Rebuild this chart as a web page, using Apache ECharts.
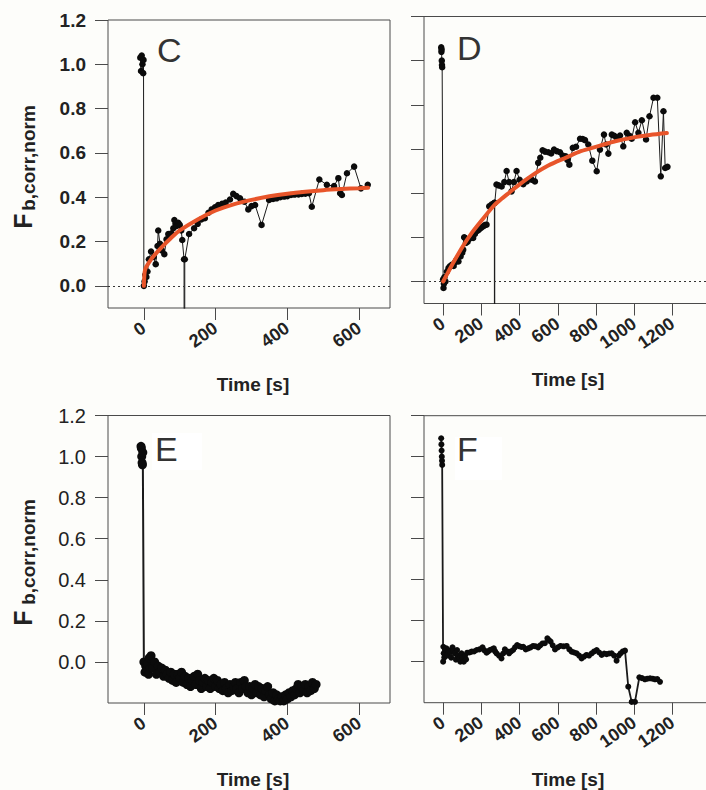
<!DOCTYPE html>
<html>
<head>
<meta charset="utf-8">
<script src="https://cdn.jsdelivr.net/npm/echarts@6/dist/echarts.min.js"></script>
<style>
html,body{margin:0;padding:0;background:#fdfdfa;}
#chart{width:706px;height:790px;}
</style>
</head>
<body>
<div id="chart"></div>
<script>
// ---------- tick labels ----------
const yTicks = [0, 0.2, 0.4, 0.6, 0.8, 1.0, 1.2];
const xTicksShort = [0, 200, 400, 600];
const xTicksLong = [0, 200, 400, 600, 800, 1000, 1200];
const panelLetters = ['C', 'D', 'E', 'F'];
const xTitle = 'Time [s]';
const yTitleMain = 'F';
const yTitleSub = 'b,corr,norm';

// ---------- panel C ----------
const cTime = [-10, -8, -6, -4, -2, -1, 0, 2, 4, 7, 10, 14, 20, 27, 33, 38, 40, 45, 50, 57, 63, 68, 73, 77, 82, 85, 88, 91, 96, 100, 104, 107, 112, 113, 114, 126, 140, 150, 160, 170, 180, 189, 198, 207, 218, 228, 240, 249, 258, 268, 280, 291, 300, 310, 328, 349, 360, 370, 380, 391, 400, 410, 420, 431, 440, 450, 460, 468, 489, 510, 530, 542, 547, 552, 566, 586, 605, 624];
const cValue = [1.03, 0.97, 1.04, 1.0, 0.96, 1.02, 0.0, 0.02, 0.05, 0.04, 0.065, 0.12, 0.155, 0.13, 0.098, 0.18, 0.25, 0.19, 0.16, 0.143, 0.21, 0.234, 0.225, 0.237, 0.26, 0.297, 0.28, 0.27, 0.285, 0.275, 0.25, 0.207, 0.12, -3, 0.12, 0.234, 0.26, 0.28, 0.3, 0.305, 0.33, 0.345, 0.355, 0.365, 0.37, 0.376, 0.39, 0.415, 0.405, 0.395, 0.38, 0.345, 0.36, 0.365, 0.275, 0.388, 0.392, 0.395, 0.4, 0.403, 0.405, 0.41, 0.412, 0.413, 0.415, 0.416, 0.418, 0.357, 0.48, 0.456, 0.45, 0.486, 0.418, 0.41, 0.508, 0.538, 0.44, 0.456];
const cFitTime = [0, 2, 5, 10, 25, 50, 75, 100, 150, 200, 250, 300, 350, 400, 450, 500, 550, 600, 625];
const cFitValue = [0, 0.06, 0.08, 0.095, 0.13, 0.175, 0.215, 0.25, 0.3, 0.34, 0.368, 0.388, 0.404, 0.416, 0.425, 0.432, 0.437, 0.441, 0.443];

// ---------- panel D ----------
const dTime = [-10, -9, -8, -7, -6, -5, 0, 2, 4, 7, 12, 20, 28, 35, 45, 55, 62, 70, 80, 91, 100, 105, 110, 114, 119, 128, 136, 146, 157, 166, 175, 184, 192, 201, 210, 218, 227, 241, 253, 262, 268, 269, 270, 279, 290, 306, 320, 332, 345, 358, 370, 384, 400, 419, 437, 454, 463, 480, 497, 508, 520, 533, 550, 565, 580, 594, 611, 625, 641, 650, 660, 678, 695, 716, 730, 742, 759, 780, 803, 820, 841, 852, 864, 882, 895, 908, 925, 942, 960, 975, 986, 1004, 1021, 1039, 1061, 1079, 1100, 1120, 1138, 1152, 1161, 1173];
const dValue = [1.06, 1.04, 1.05, 1.0, 0.98, 0.97, 0.01, -0.03, -0.01, 0.02, 0.0, 0.045, 0.06, 0.068, 0.075, 0.07, 0.086, 0.098, 0.09, 0.113, 0.13, 0.144, 0.2, 0.197, 0.174, 0.18, 0.192, 0.2, 0.197, 0.215, 0.227, 0.232, 0.239, 0.245, 0.25, 0.255, 0.257, 0.34, 0.348, 0.352, 0.356, -3, 0.356, 0.439, 0.435, 0.43, 0.45, 0.5, 0.45, 0.408, 0.45, 0.5, 0.46, 0.44, 0.453, 0.464, 0.461, 0.453, 0.537, 0.56, 0.594, 0.588, 0.585, 0.58, 0.597, 0.59, 0.585, 0.57, 0.567, 0.55, 0.529, 0.605, 0.61, 0.646, 0.645, 0.64, 0.62, 0.547, 0.499, 0.597, 0.665, 0.62, 0.579, 0.665, 0.66, 0.65, 0.661, 0.612, 0.673, 0.66, 0.646, 0.721, 0.673, 0.73, 0.643, 0.748, 0.832, 0.832, 0.476, 0.771, 0.514, 0.519];
const dFitTime = [0, 25, 50, 100, 150, 200, 267, 300, 350, 400, 471, 550, 646, 720, 820, 900, 995, 1080, 1170];
const dFitValue = [0, 0.04, 0.08, 0.155, 0.22, 0.275, 0.345, 0.37, 0.405, 0.44, 0.484, 0.525, 0.562, 0.59, 0.615, 0.635, 0.652, 0.663, 0.672];

// ---------- panel E ----------
const eTime = [-8, -7, -6, -5, -4, -3, 0, 3, 5, 8, 10, 13, 15, 18, 20, 25, 30, 35, 40, 45, 50, 55, 60, 65, 70, 75, 80, 85, 90, 95, 100, 105, 110, 115, 120, 125, 130, 135, 140, 145, 150, 155, 160, 165, 170, 175, 180, 185, 190, 195, 200, 205, 210, 215, 220, 225, 230, 235, 240, 245, 250, 255, 260, 265, 270, 275, 280, 285, 290, 295, 300, 305, 310, 315, 320, 325, 330, 335, 340, 345, 350, 355, 360, 365, 370, 375, 380, 385, 390, 395, 400, 405, 410, 415, 420, 425, 430, 435, 440, 445, 450, 455, 460, 465, 470, 475, 480];
const eValue = [1.05, 1.04, 1.0, 0.97, 0.96, 1.02, 0.0, -0.05, -0.02, -0.04, -0.01, -0.06, 0.02, -0.03, 0.03, -0.03, 0.0, -0.06, -0.02, -0.05, -0.03, -0.07, -0.04, -0.06, -0.08, -0.05, -0.09, -0.06, -0.1, -0.06, -0.08, -0.05, -0.1, -0.07, -0.11, -0.08, -0.12, -0.09, -0.07, -0.11, -0.06, -0.09, -0.13, -0.1, -0.08, -0.12, -0.09, -0.13, -0.1, -0.08, -0.12, -0.09, -0.13, -0.11, -0.14, -0.1, -0.13, -0.15, -0.11, -0.14, -0.12, -0.1, -0.13, -0.15, -0.1, -0.13, -0.09, -0.12, -0.15, -0.12, -0.16, -0.13, -0.11, -0.15, -0.12, -0.16, -0.13, -0.17, -0.14, -0.12, -0.16, -0.18, -0.15, -0.19, -0.16, -0.18, -0.19, -0.17, -0.19, -0.16, -0.18, -0.15, -0.17, -0.14, -0.16, -0.13, -0.11, -0.15, -0.12, -0.14, -0.11, -0.15, -0.12, -0.14, -0.1, -0.13, -0.11];

// ---------- panel F ----------
const fTime = [-10, -9, -8, -7, -6, -5, 0, 1, 3, 6, 10, 17, 22, 28, 35, 42, 49, 55, 61, 67, 73, 78, 84, 90, 96, 102, 108, 114, 120, 126, 138, 149, 162, 175, 190, 206, 216, 227, 236, 244, 255, 265, 272, 279, 292, 305, 314, 323, 335, 345, 355, 366, 376, 387, 400, 410, 419, 432, 445, 458, 471, 484, 497, 508, 520, 532, 545, 553, 562, 573, 585, 600, 614, 630, 646, 660, 672, 685, 698, 711, 724, 737, 750, 763, 777, 790, 803, 816, 829, 842, 855, 868, 881, 894, 907, 918, 928, 940, 951, 968, 986, 1003, 1026, 1040, 1055, 1068, 1082, 1095, 1108, 1120, 1134];
const fValue = [1.09, 1.06, 1.03, 1.0, 0.98, 0.96, 0.0, 0.073, 0.041, 0.02, 0.06, 0.065, 0.03, 0.055, 0.049, 0.02, 0.07, 0.05, 0.041, 0.01, 0.057, 0.03, 0.016, 0.0, 0.041, 0.02, 0.0, 0.03, 0.011, 0.044, 0.045, 0.049, 0.05, 0.057, 0.06, 0.07, 0.055, 0.044, 0.05, 0.057, 0.06, 0.065, 0.05, 0.041, 0.03, 0.016, 0.04, 0.06, 0.05, 0.041, 0.05, 0.057, 0.07, 0.081, 0.075, 0.072, 0.073, 0.06, 0.065, 0.07, 0.077, 0.075, 0.07, 0.08, 0.089, 0.09, 0.114, 0.105, 0.098, 0.08, 0.06, 0.07, 0.077, 0.075, 0.077, 0.06, 0.049, 0.045, 0.041, 0.03, 0.016, 0.025, 0.033, 0.03, 0.041, 0.05, 0.057, 0.045, 0.033, 0.04, 0.037, 0.04, 0.041, 0.03, 0.005, 0.03, 0.041, 0.05, 0.054, -0.122, -0.196, -0.196, -0.076, -0.08, -0.086, -0.083, -0.081, -0.083, -0.086, -0.085, -0.098];

// ---------- helpers ----------
const zip = (a, b) => a.map((v, i) => [v, b[i]]);
const BOX = '#4a4a4a';
const FONT = '"Liberation Sans", Arial, Helvetica, sans-serif';
const FIT = '#e8552a';

const grids = [
  {left: 108, top: 20, width: 282, height: 288},
  {left: 424, top: 16.5, width: 306, height: 287},
  {left: 108, top: 415.5, width: 282, height: 287.5},
  {left: 424, top: 415.7, width: 306, height: 287}
].map(g => Object.assign({show: true, borderColor: BOX, borderWidth: 1, backgroundColor: 'transparent',
  containLabel: false, outerBoundsMode: 'none'}, g));

function xAxis(idx, max, ticks) {
  return {
    type: 'value', gridIndex: idx, min: -100, max: max, position: 'bottom',
    axisLine: {show: false, onZero: false}, splitLine: {show: false},
    axisTick: {show: true, length: 12, customValues: ticks, lineStyle: {color: BOX, width: 1}},
    axisLabel: {show: true, customValues: ticks, rotate: 35, margin: 18, fontFamily: FONT,
      fontWeight: 'bold', fontSize: 18, color: '#222', formatter: v => String(v)}
  };
}
function yAxis(idx, min, labels, weight, size) {
  return {
    type: 'value', gridIndex: idx, min: min, max: 1.2, position: 'left',
    axisLine: {show: false, onZero: false}, splitLine: {show: false},
    axisTick: {show: true, length: 13, customValues: yTicks, lineStyle: {color: BOX, width: 1}},
    axisLabel: {show: labels, customValues: yTicks, margin: 22, fontFamily: FONT,
      fontWeight: weight, fontSize: size, color: '#222', formatter: v => v.toFixed(1)}
  };
}

const zeroLine = {
  silent: true, symbol: 'none', animation: false,
  label: {show: false},
  lineStyle: {type: [2, 3], color: '#333', width: 1},
  data: [{yAxis: 0}]
};

function dataSeries(idx, t, v, lw, size, withZero) {
  const s = {
    type: 'line', xAxisIndex: idx, yAxisIndex: idx, data: zip(t, v),
    symbol: 'circle', symbolSize: size, showSymbol: true, clip: true,
    itemStyle: {color: '#0b0b0b'}, lineStyle: {color: '#1a1a1a', width: lw},
    z: 2
  };
  if (withZero) s.markLine = zeroLine;
  return s;
}
function fitSeries(idx, t, v) {
  return {
    type: 'line', xAxisIndex: idx, yAxisIndex: idx, data: zip(t, v),
    showSymbol: false, symbol: 'none', smooth: 0.3, clip: true,
    lineStyle: {color: FIT, width: 4, cap: 'round'}, z: 5
  };
}

function letter(txt, x, y) {
  return {type: 'text', x: x, y: y, z: 50,
    style: {text: txt, font: '34px ' + FONT, fill: '#333', textVerticalAlign: 'middle', verticalAlign: 'middle'}};
}
function whiteBox(x, y, w, h) {
  return {type: 'rect', shape: {x: x, y: y, width: w, height: h}, z: 40, style: {fill: '#ffffff'}};
}
function xName(x, y) {
  return {type: 'text', x: x, y: y, z: 50,
    style: {text: xTitle, font: 'bold 19px ' + FONT, fill: '#222', textAlign: 'center', align: 'center',
      textVerticalAlign: 'middle', verticalAlign: 'middle'}};
}
function yName(xF, yF, xS, yS) {
  return [
    {type: 'text', x: xF, y: yF, rotation: Math.PI / 2, z: 50,
      style: {text: yTitleMain, font: 'bold 25px ' + FONT, fill: '#222', textAlign: 'center', align: 'center',
        textVerticalAlign: 'middle', verticalAlign: 'middle'}},
    {type: 'text', x: xS, y: yS, rotation: Math.PI / 2, z: 50,
      style: {text: yTitleSub, font: 'bold 19px ' + FONT, fill: '#222', textAlign: 'center', align: 'center',
        textVerticalAlign: 'middle', verticalAlign: 'middle'}}
  ];
}

const option = {
  backgroundColor: '#fdfdfa',
  animation: false,
  grid: grids,
  xAxis: [xAxis(0, 686, xTicksShort), xAxis(1, 1500, xTicksLong), xAxis(2, 686, xTicksShort), xAxis(3, 1500, xTicksLong)],
  yAxis: [yAxis(0, -0.1, true, 'bold', 19), yAxis(1, -0.1, false, 'bold', 19),
          yAxis(2, -0.2, true, 'normal', 20), yAxis(3, -0.2, false, 'normal', 20)],
  series: [
    dataSeries(0, cTime, cValue, 1, 6.5, true),
    fitSeries(0, cFitTime, cFitValue),
    dataSeries(1, dTime, dValue, 1, 6.5, true),
    fitSeries(1, dFitTime, dFitValue),
    dataSeries(2, eTime, eValue, 2, 9, false),
    dataSeries(3, fTime, fValue, 1.8, 6, false)
  ],
  graphic: [
    letter(panelLetters[0], 157, 50),
    letter(panelLetters[1], 457, 48),
    whiteBox(152, 433, 50, 37),
    letter(panelLetters[2], 155, 449),
    whiteBox(455, 437, 47, 43),
    letter(panelLetters[3], 457, 449),
    xName(253, 384), xName(568, 379), xName(253, 779), xName(568, 779)
  ].concat(yName(23, 221, 28, 158), yName(23, 618, 28, 552))
};

const chart = echarts.init(document.getElementById('chart'), null, {renderer: 'svg', width: 706, height: 790});
chart.setOption(option);
</script>
</body>
</html>
